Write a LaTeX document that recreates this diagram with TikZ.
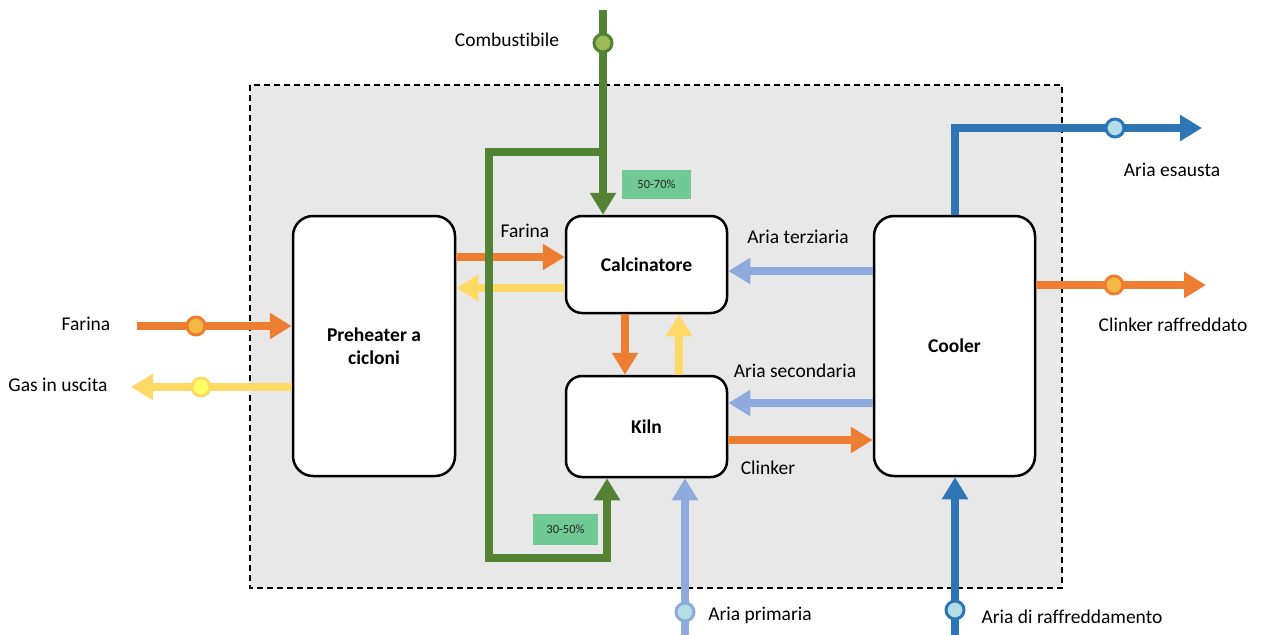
\documentclass[tikz,border=0pt]{standalone}
\usepackage{fontspec}
\setmainfont[Ligatures=NoCommon]{Carlito}
\usetikzlibrary{arrows.meta}
\definecolor{corange}{HTML}{ED7D31}
\definecolor{cyellow}{HTML}{FFD966}
\definecolor{clblue}{HTML}{8FAADC}
\definecolor{cdblue}{HTML}{2E75B6}
\definecolor{cgreen}{HTML}{548235}
\definecolor{clabel}{HTML}{71C996}
\definecolor{cbg}{HTML}{E8E8E8}
\definecolor{dorange}{HTML}{F4B942}
\definecolor{dyellow}{HTML}{FFFF66}
\definecolor{dblue}{HTML}{B4DDE6}
\definecolor{dgreen}{HTML}{9BBB59}
\begin{document}
\begin{tikzpicture}[x=1pt,y=-1pt,
  every node/.style={font=\fontsize{19.5}{23}\selectfont, inner sep=0pt},
  box/.style={draw=black, line width=2.5pt, fill=white, rounded corners=20pt, align=center, font=\fontsize{19.5}{23}\selectfont\bfseries},
  flow/.style={line width=8pt, line join=miter, -{Triangle[width=25pt,length=22pt]}},
  dot/.style={circle, line width=3pt, minimum size=18pt},
  pct/.style={fill=clabel, font=\fontsize{12.5}{14}\selectfont, text=black!85}
]
\useasboundingbox (0,0) rectangle (1262,635);
\fill[cbg] (250,85) rectangle (1062,588);
\draw[black, line width=1.6pt, dash pattern=on 6pt off 4pt] (250,85) rectangle (1062,588);

% boxes
\node[box, minimum width=162pt, minimum height=260pt] (pre) at (374,346) {Preheater a\\cicloni};
\node[box, minimum width=161pt, minimum height=97pt, rounded corners=16pt] (cal) at (646.5,264.5) {Calcinatore};
\node[box, minimum width=161pt, minimum height=101pt, rounded corners=16pt] (kiln) at (646.5,426.5) {Kiln};
\node[box, minimum width=161pt, minimum height=260pt] (cool) at (954.5,346) {Cooler};

% internal flows
\draw[flow, corange] (pre.east |- 0,257) -- (cal.west |- 0,257);
\draw[flow, cyellow] (cal.west |- 0,288) -- (pre.east |- 0,288);
\draw[flow, corange] (cal.south -| 625,0) -- (kiln.north -| 625,0);
\draw[flow, cyellow] (kiln.north -| 679,0) -- (cal.south -| 679,0);
\draw[flow, clblue] (cool.west |- 0,271) -- (cal.east |- 0,271);
\draw[flow, clblue] (cool.west |- 0,403) -- (kiln.east |- 0,403);
\draw[flow, corange] (kiln.east |- 0,440) -- (cool.west |- 0,440);

% fuel
\coordinate (ctop) at (603,10);
\coordinate (cbr) at (603,152);
\draw[flow, cgreen] (ctop) -- (cal.north -| ctop);
\draw[flow, cgreen] (cbr) -- (489,152) -- (489,558) -- (607,558) -- (kiln.south -| 607,0);
\node[dot, draw=cgreen, fill=dgreen] (dc) at (603,43) {};
\node[pct, minimum width=69pt, minimum height=29pt] (p1) at (656.5,184.5) {50-70\%};
\node[pct, minimum width=65pt, minimum height=31pt] (p2) at (565.5,529.5) {30-50\%};

% external flows
\coordinate (fin) at (137,326);
\draw[flow, corange] (fin) -- (pre.west |- fin);
\node[dot, draw=corange, fill=dorange] (d1) at (196,326) {};
\coordinate (gout) at (131,387);
\draw[flow, cyellow] (pre.west |- gout) -- (gout);
\node[dot, draw=cyellow, fill=dyellow] (d2) at (201,387) {};

\coordinate (apin) at (685,635);
\draw[flow, clblue] (apin) -- (kiln.south -| apin);
\node[dot, draw=clblue, fill=dblue] (d3) at (685,612) {};

\coordinate (arin) at (955,635);
\draw[flow, cdblue] (arin) -- (cool.south -| arin);
\node[dot, draw=cdblue, fill=dblue] (d4) at (955,610) {};

\coordinate (aeout) at (1202,128);
\draw[flow, cdblue] (cool.north -| 955,0) -- (955,128) -- (aeout);
\node[dot, draw=cdblue, fill=dblue] (d5) at (1115,128) {};

\coordinate (crout) at (1206,285);
\draw[flow, corange] (cool.east |- crout) -- (crout);
\node[dot, draw=corange, fill=dorange] (d6) at (1114,285) {};

% labels
\node at (507,40) {Combustibile};
\node at (1172,170) {Aria esausta};
\node at (1173,325) {Clinker raffreddato};
\node at (86,324) {Farina};
\node at (58,385) {Gas in uscita};
\node at (525,231) {Farina};
\node at (798,237) {Aria terziaria};
\node at (795,371) {Aria secondaria};
\node at (768,468) {Clinker};
\node at (760,615) {Aria primaria};
\node at (1072,617) {Aria di raffreddamento};
\end{tikzpicture}
\end{document}
